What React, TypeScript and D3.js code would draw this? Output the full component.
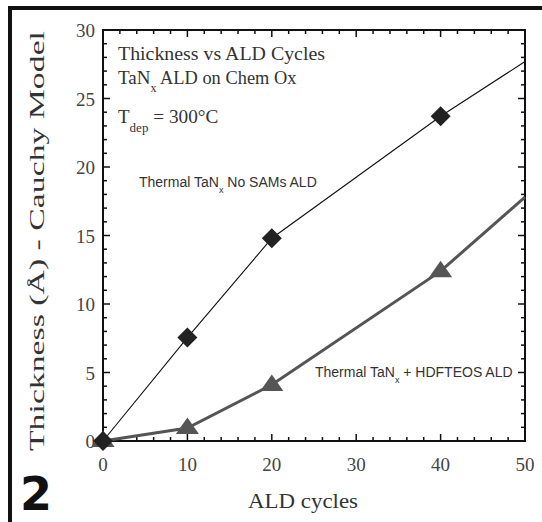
import React from "react";
import * as d3 from "d3";

const cycles = [0, 10, 20, 40, 50];
const noSams = [0, 7.55, 14.8, 23.7, 27.7];
const hdfteos = [0, 0.95, 4.1, 12.4, 17.8];
const markerCycles = [0, 10, 20, 40];
const xTicks = [0, 10, 20, 30, 40, 50];
const yTicks = [0, 5, 10, 15, 20, 25, 30];

const W = 542, H = 522;
const M = { left: 103, right: 525, top: 30, bottom: 441 };

export default function App() {
  const x = d3.scaleLinear().domain([0, 50]).range([M.left, M.right]);
  const y = d3.scaleLinear().domain([0, 30]).range([M.bottom, M.top]);
  const line = d3.line<number>().x((_, i) => x(cycles[i])).y((d) => y(d));
  const xMinor = d3.range(0, 51, 2);
  const yMinor = d3.range(0, 31, 1);
  const serif = "'Liberation Serif', 'DejaVu Serif', serif";
  const narrow = "'Liberation Sans Narrow', 'Liberation Sans', Arial, sans-serif";
  const diamond = (cx: number, cy: number, r: number) =>
    `M${cx},${cy - r}L${cx + r},${cy}L${cx},${cy + r}L${cx - r},${cy}Z`;
  const tri = (cx: number, cy: number, s: number) =>
    `M${cx},${cy - s * 0.95}L${cx + s * 1.05},${cy + s * 0.55}L${cx - s * 1.05},${cy + s * 0.55}Z`;
  return (
    <svg width={W} height={H} style={{ position: "absolute", left: 0, top: 0, background: "#fff" }}>
      <rect x={0} y={0} width={W} height={H} fill="#fff" />
      {/* page frame */}
      <rect x={8} y={6} width={W - 8} height={4} fill="#111" />
      <rect x={8} y={6} width={4} height={H - 6} fill="#111" />
      {/* ticks */}
      <g stroke="#111" strokeWidth={1.5}>
        {xMinor.map((v) => {
          const major = v % 10 === 0;
          const len = major ? 7 : 4;
          return (
            <g key={"x" + v}>
              <line x1={x(v)} x2={x(v)} y1={M.bottom} y2={M.bottom - len} />
              <line x1={x(v)} x2={x(v)} y1={M.top} y2={M.top + len} />
            </g>
          );
        })}
        {yMinor.map((v) => {
          const major = v % 5 === 0;
          const len = major ? 7 : 4;
          return (
            <g key={"y" + v}>
              <line y1={y(v)} y2={y(v)} x1={M.left} x2={M.left + len} />
              <line y1={y(v)} y2={y(v)} x1={M.right} x2={M.right - len} />
            </g>
          );
        })}
      </g>
      <rect x={M.left} y={M.top} width={M.right - M.left} height={M.bottom - M.top} fill="none" stroke="#111" strokeWidth={2} />
      {/* tick labels */}
      <g fontFamily={serif} fontSize={19} fill="#444">
        {xTicks.map((v) => (
          <text key={"xl" + v} x={x(v)} y={471} textAnchor="middle">{v}</text>
        ))}
        {yTicks.map((v) => (
          <text key={"yl" + v} x={95} y={y(v) + 7} textAnchor="end">{v}</text>
        ))}
      </g>
      {/* series lines */}
      <path d={line(hdfteos) || ""} fill="none" stroke="#555" strokeWidth={3} />
      <path d={line(noSams) || ""} fill="none" stroke="#111" strokeWidth={1.1} />
      {markerCycles.map((c, i) => (
        <path key={"t" + c} d={tri(x(c), y(hdfteos[i]), 11)} fill="#555" />
      ))}
      {markerCycles.map((c, i) => (
        <path key={"d" + c} d={diamond(x(c), y(noSams[i]), 10)} fill="#222" />
      ))}
      {/* annotations */}
      <g fontFamily={serif} fill="#333" fontSize={19}>
        <text x={118} y={60} textLength={207} lengthAdjust="spacingAndGlyphs">Thickness vs ALD Cycles</text>
        <text x={118} y={84}>TaN<tspan fontSize={12} dy={8}>x</tspan><tspan dy={-8} textLength={140} lengthAdjust="spacingAndGlyphs"> ALD on Chem Ox</tspan></text>
        <text x={118} y={123}>T<tspan fontSize={13} dy={9}>dep</tspan><tspan dy={-9} textLength={70} lengthAdjust="spacingAndGlyphs"> = 300°C</tspan></text>
      </g>
      <g fontFamily={narrow} fill="#333" fontSize={14}>
        <text x={139} y={187}>Thermal TaN<tspan fontSize={9} dy={6}>x</tspan><tspan dy={-6}>  No SAMs ALD</tspan></text>
        <text x={315} y={377}>Thermal TaN<tspan fontSize={9} dy={6}>x</tspan><tspan dy={-6}>  + HDFTEOS ALD</tspan></text>
      </g>
      {/* axis titles */}
      <text x={303} y={508} textAnchor="middle" fontFamily={serif} fontSize={20} fill="#333" textLength={110} lengthAdjust="spacingAndGlyphs">ALD cycles</text>
      <text transform={`translate(44,241) rotate(-90)`} textAnchor="middle" fontFamily={serif} fontSize={22} fill="#333" textLength={420} lengthAdjust="spacingAndGlyphs">Thickness (Å) - Cauchy Model</text>
      {/* panel number */}
      <text x={20} y={510} fontFamily="'DejaVu Sans', Arial, sans-serif" fontWeight={900} fontSize={46} fill="#111">2</text>
    </svg>
  );
}
